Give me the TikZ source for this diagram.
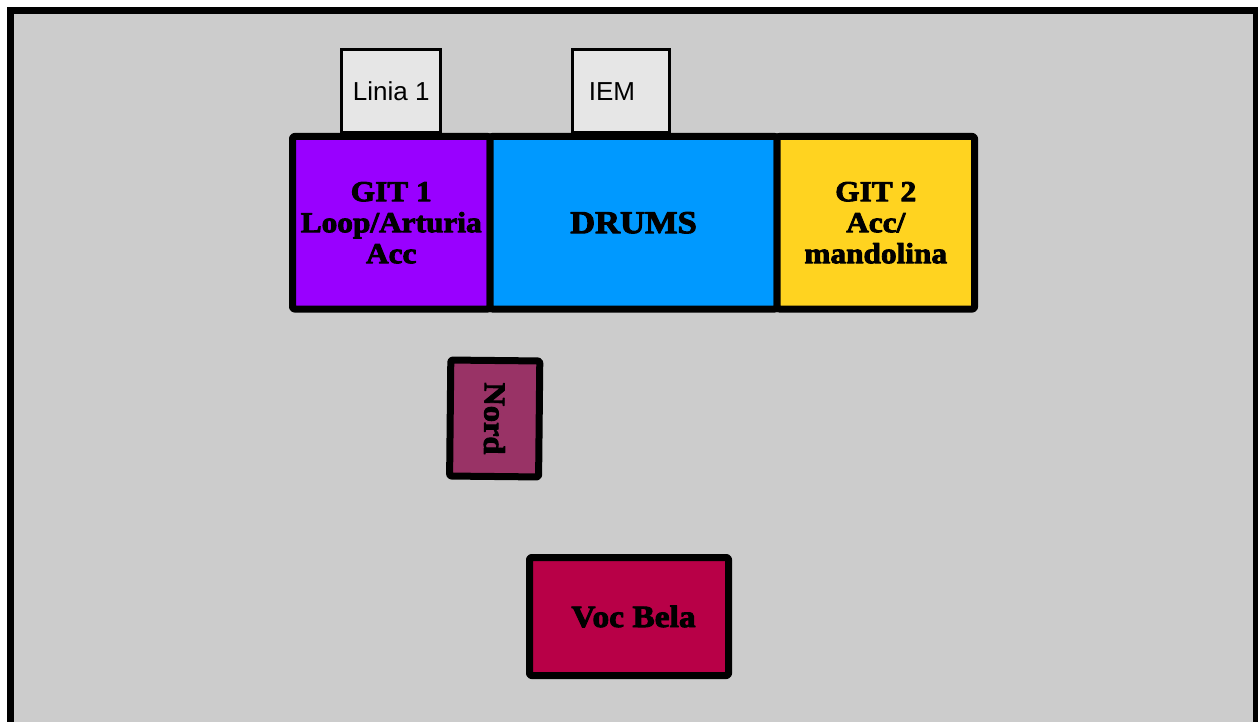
\documentclass[tikz,border=0pt]{standalone}
\usepackage{fontspec}
\setsansfont{Liberation Sans}
\newfontfamily\posterfont[FakeBold=3,FakeStretch=1.08]{Liberation Serif}
\usetikzlibrary{positioning}
\definecolor{floorgray}{HTML}{CCCCCC}
\definecolor{tabgray}{HTML}{E6E6E6}
\definecolor{gitone}{HTML}{9900FF}
\definecolor{drumblue}{HTML}{0099FF}
\definecolor{gittwo}{HTML}{FFD320}
\definecolor{nordred}{HTML}{993366}
\definecolor{vocred}{HTML}{B80047}

\begin{document}
\begin{tikzpicture}[
    x=1pt, y=-1pt,
    stage/.style={draw=black, line width=7pt, fill=floorgray},
    spot/.style={draw=black, line width=7pt, rounded corners=2pt, line join=round, inner sep=0pt, outer sep=0pt, align=center, font=\posterfont\bfseries\fontsize{29}{31}\selectfont},
    riser/.style={spot, minimum width=197.5pt, minimum height=172.5pt},
    tab/.style={draw=black, line width=3pt, fill=tabgray, inner sep=0pt, outer sep=0pt, minimum height=83.5pt, font=\sffamily\fontsize{26}{30}\selectfont}
  ]
    \path[use as bounding box] (0,0) rectangle (1258,722);
    \clip (0,0) rectangle (1258,722);
    \draw[stage] (10.5,10.5) rectangle (1256.5,760);
    \node[riser, fill=gitone] (git1) at (391.25,222.75) {GIT 1\\Loop/Arturia\\Acc};
    \node[riser, fill=drumblue, minimum width=287pt, right=0pt of git1, font=\posterfont\bfseries\fontsize{32}{34}\selectfont] (drums) {DRUMS};
    \node[riser, fill=gittwo, right=0pt of drums] (git2) {GIT 2\\Acc/\\mandolina};
    \node[tab, minimum width=99pt, above=3.5pt of git1] (linia) {Linia 1};
    \node[tab, minimum width=97pt, above=3.5pt of drums, xshift=-12.5pt] (iem) {IEM\hspace{18pt}\null};
    \node[spot, fill=nordred, minimum width=116pt, minimum height=89pt, rotate=-90.6, font=\posterfont\bfseries\fontsize{30}{32}\selectfont] (nord) at (494.7,418.5) {Nord};
    \node[spot, fill=vocred, minimum width=199pt, minimum height=118pt, font=\posterfont\bfseries\fontsize{31}{33}\selectfont] (voc) at (629,616.5) {\hspace{9pt}Voc Bela};
  \end{tikzpicture}
\end{document}
